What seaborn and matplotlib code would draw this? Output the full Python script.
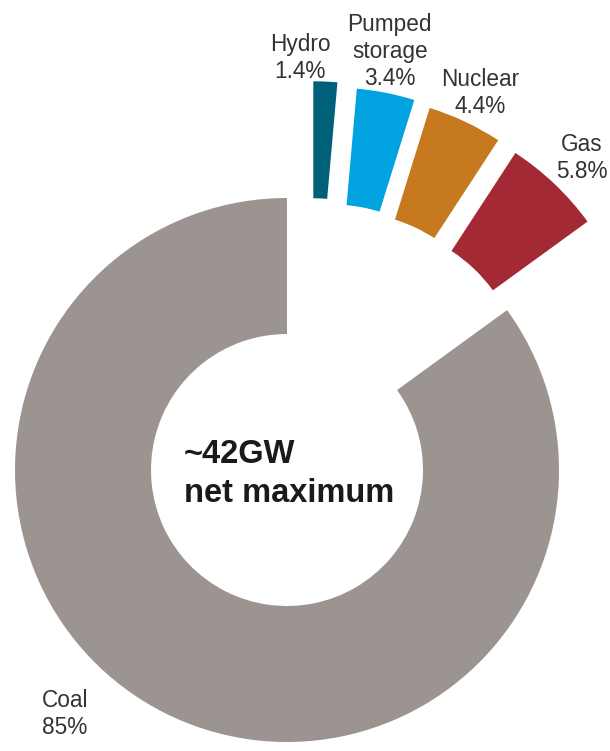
import numpy as np
import matplotlib
matplotlib.use("Agg")
import matplotlib.pyplot as plt
import seaborn as sns

# Generation capacity mix (% of net maximum capacity)
sources = ["Hydro", "Pumped\nstorage", "Nuclear", "Gas", "Coal"]
shares = [1.4, 3.4, 4.4, 5.8, 85.0]
share_labels = ["1.4%", "3.4%", "4.4%", "5.8%", "85%"]
colors = ["#00607a", "#00a3e0", "#c77920", "#a32934", "#9b9490"]

sns.set_theme(style="white")
plt.rcParams["font.family"] = ["Liberation Sans", "DejaVu Sans"]

W, H = 610, 751
fig = plt.figure(figsize=(W / 100, H / 100), dpi=100)
ax = fig.add_axes([0, 0, 1, 1])

# ring geometry in pixels
R, cx, cy = 272.0, 287.0, 470.0
n_small = len(shares) - 1

# Coal: the main ring
coal_wedges, _ = ax.pie(
    shares, colors=colors, startangle=90, counterclock=False, radius=1.0,
    wedgeprops=dict(width=0.5, linewidth=0),
)
for w in coal_wedges[:n_small]:
    w.set_visible(False)

# Smaller sources: a thinner ring, each wedge pulled out from the centre
small_wedges, _ = ax.pie(
    shares, colors=colors, startangle=90, counterclock=False, radius=1.01,
    wedgeprops=dict(width=0.43, linewidth=0),
)
small_wedges[-1].set_visible(False)
pull_dist = 0.43
pull_dir = [77.0, 67.0, 58.5, 48.0]  # degrees
for w, ang in zip(small_wedges[:n_small], pull_dir):
    a = np.deg2rad(ang)
    w.set_center((pull_dist * np.cos(a), pull_dist * np.sin(a)))

text_color = "#333333"
label_polar = [(88.2, 1.515), (76.2, 1.585), (62.9, 1.557), (46.6, 1.579)]
for i, (ang, rad) in enumerate(label_polar):
    a = np.deg2rad(ang)
    ax.text(rad * np.cos(a), rad * np.sin(a),
            f"{sources[i]}\n{share_labels[i]}", ha="center", va="center",
            fontsize=16.3, color=text_color, linespacing=1.22)

ax.text((42 - cx) / R, (cy - 714) / R, f"{sources[-1]}\n{share_labels[-1]}",
        ha="left", va="center", fontsize=16.3, color=text_color, linespacing=1.22)

# centre caption
ax.text((184 - cx) / R, (cy - 463) / R, "~42GW", ha="left", va="baseline",
        fontsize=23.5, fontweight="bold", color="#1a1a1a")
ax.text((184 - cx) / R, (cy - 502) / R, "net maximum", ha="left", va="baseline",
        fontsize=23.5, fontweight="bold", color="#1a1a1a")

ax.set_xlim(-cx / R, (W - cx) / R)
ax.set_ylim(-(H - cy) / R, cy / R)
ax.set_aspect("auto")
ax.axis("off")

fig.savefig("out.png", dpi=100, facecolor="white")
